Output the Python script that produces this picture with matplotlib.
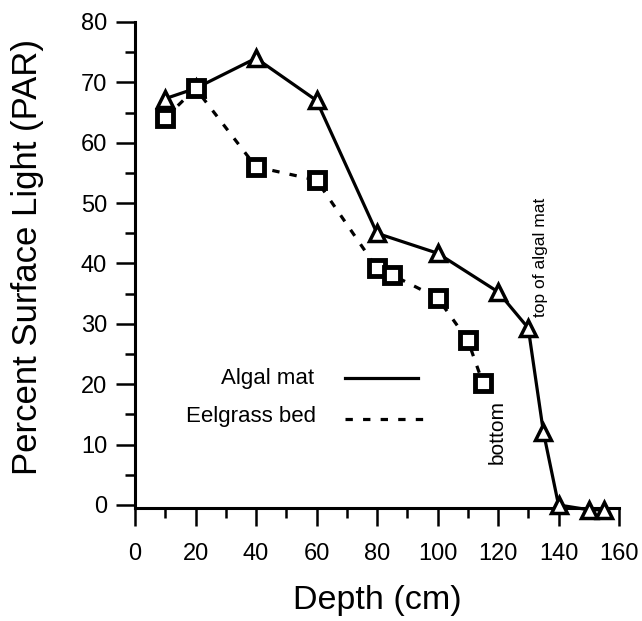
import matplotlib
matplotlib.use("Agg")
import matplotlib.pyplot as plt
from matplotlib.lines import Line2D
from matplotlib.ticker import MultipleLocator

plt.rcParams['font.family'] = ['Liberation Sans', 'DejaVu Sans']

# Algal mat (triangles, solid line)
algal_depth = [10, 20, 40, 60, 80, 100, 120, 130, 135, 140, 150, 155]
algal_light = [67.3, 69, 74, 67, 45, 41.7, 35.3, 29.3, 12.1, 0, -0.8, -0.8]

# Eelgrass bed (squares, dashed line)
eel_depth = [10, 20, 40, 60, 80, 85, 100, 110, 115]
eel_light = [64.1, 69, 56, 53.8, 39.2, 38.1, 34.3, 27.3, 20.2]

fig = plt.figure(figsize=(6.42, 6.21), dpi=100)
ax = fig.add_axes([0.2103, 0.182, 0.7539, 0.7826])

ax.plot(algal_depth, algal_light, color='black', lw=2.3, marker='^',
        ms=12, mfc='white', mec='black', mew=2.5, clip_on=False, zorder=3)
ax.plot(eel_depth, eel_light, color='black', lw=2.3, dashes=(2.3, 3.2),
        marker='s', ms=11, mfc='white', mec='black', mew=3.5,
        clip_on=False, zorder=4)

ax.set_xlim(0, 160)
ax.set_ylim(-0.5, 80)
ax.xaxis.set_major_locator(MultipleLocator(20))
ax.xaxis.set_minor_locator(MultipleLocator(10))
ax.yaxis.set_major_locator(MultipleLocator(10))
ax.yaxis.set_minor_locator(MultipleLocator(5))

ax.spines['top'].set_visible(False)
ax.spines['right'].set_visible(False)
for s in ['left', 'bottom']:
    ax.spines[s].set_linewidth(2.2)

ax.tick_params(axis='x', which='major', direction='out', length=13, width=1.8,
               pad=12.5, labelsize=17)
ax.tick_params(axis='x', which='minor', direction='out', length=7, width=1.8)
ax.tick_params(axis='y', which='major', direction='out', length=14, width=1.8,
               pad=6, labelsize=17)
ax.tick_params(axis='y', which='minor', direction='out', length=7, width=1.8)

ax.set_xlabel('Depth (cm)', fontsize=24.5, labelpad=14)
ax.set_ylabel('Percent Surface Light (PAR)', fontsize=25)
ax.yaxis.set_label_coords(-0.188, 0.516)

# annotations
ax.text(134, 41, 'top of algal mat', rotation=90, fontsize=12.5,
        ha='center', va='center')
ax.text(119.7, 12.1, 'bottom', rotation=90, fontsize=15,
        ha='center', va='center')

# legend drawn by hand (labels right-aligned, lines to the right)
ax.text(0.370, 0.267, 'Algal mat', transform=ax.transAxes, fontsize=16,
        ha='right', va='center')
ax.text(0.374, 0.189, 'Eelgrass bed', transform=ax.transAxes, fontsize=16,
        ha='right', va='center')
ax.add_line(Line2D([0.434, 0.585], [0.267, 0.267], transform=ax.transAxes,
                   color='black', lw=2.3))
ax.add_line(Line2D([0.434, 0.595], [0.183, 0.183], transform=ax.transAxes,
                   color='black', lw=2.3, dashes=(2.3, 3.2)))

fig.savefig('out.png', dpi=100)
